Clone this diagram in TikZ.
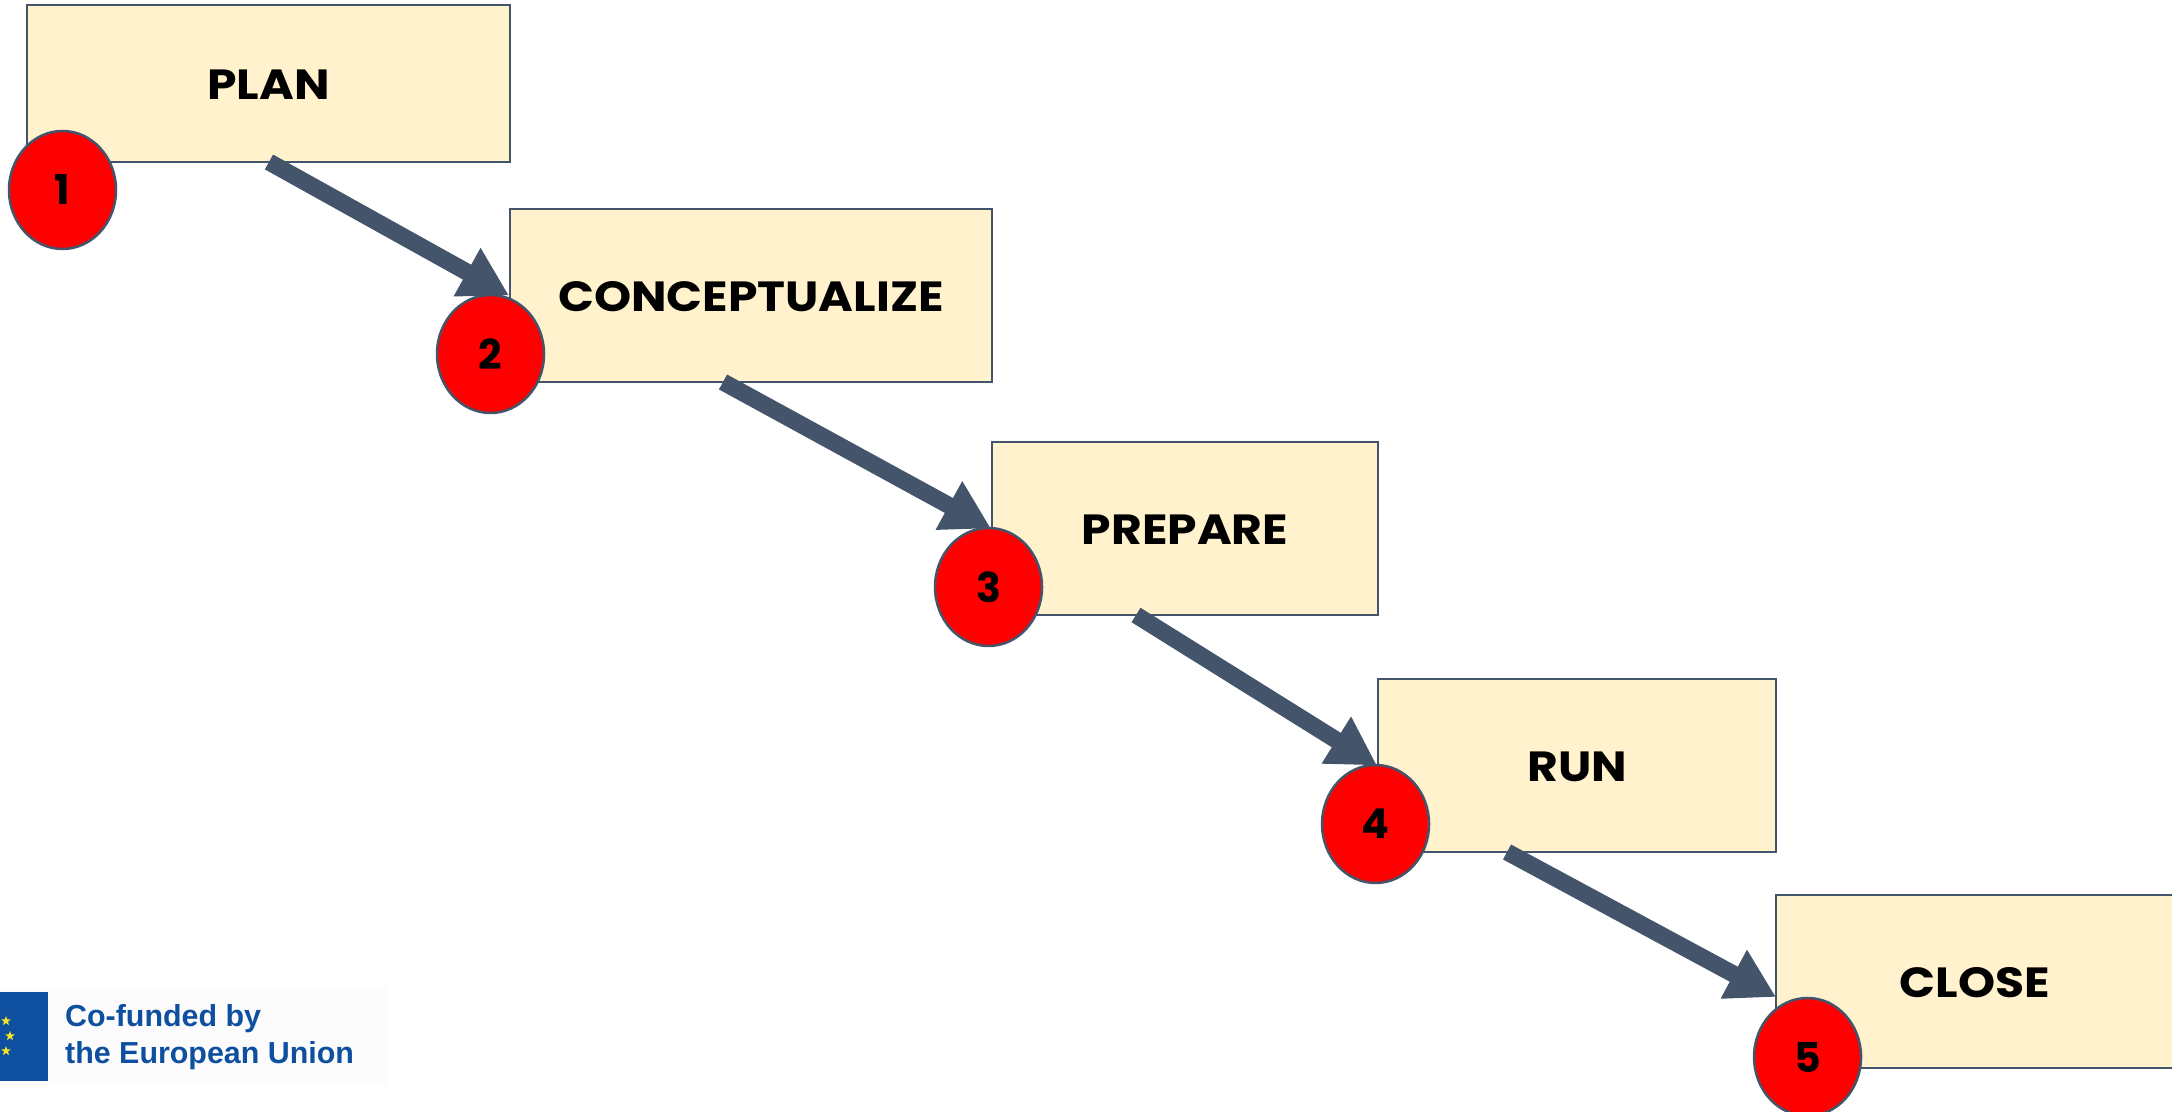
\documentclass[tikz,border=0pt]{standalone}
\usepackage{fontspec}
\setmainfont{Poppins}
\newfontfamily\stagefont[FakeStretch=1.12]{Poppins}
\newfontfamily\logofont{Liberation Sans}
\usetikzlibrary{arrows.meta,shapes.geometric}
\definecolor{slate}{HTML}{44546A}
\definecolor{cream}{HTML}{FFF2CC}
\definecolor{eublue}{HTML}{0F4FA0}
\definecolor{eustar}{HTML}{F5E625}
\tikzset{
	stagebox/.style={draw=slate, line width=0.2mm, fill=cream, inner sep=0, text height=9.3pt, font=\stagefont\fontsize{12}{14}\selectfont\bfseries},
	stagenum/.style={ellipse, draw=slate, line width=0.25mm, fill=red, inner sep=0, minimum width=1.07cm, minimum height=1.18cm, font=\fontsize{11.7}{14}\selectfont\bfseries},
	flowarrow/.style={draw=slate, line width=1.7mm, -{Triangle[length=4.8mm, width=5.2mm]}},
	eustarnode/.style={star, star points=5, star point ratio=2.4, fill=eustar, inner sep=0, minimum size=1mm},
	logotext/.style={anchor=west, inner sep=0, text=eublue, font=\logofont\fontsize{8.65}{10}\selectfont\bfseries}
}

\begin{document}
\begin{tikzpicture}
	\useasboundingbox (0, 0) rectangle (21.72, 11.12);
	
	\node[stagebox, minimum width=4.83cm, minimum height=1.57cm] (plan) at (2.685, 10.285) {PLAN};
	\node[stagebox, minimum width=4.82cm, minimum height=1.73cm] (conceptualize) at (7.51, 8.165) {CONCEPTUALIZE};
	\node[stagebox, minimum width=3.86cm, minimum height=1.73cm] (prepare) at (11.85, 5.835) {PREPARE};
	\node[stagebox, minimum width=3.98cm, minimum height=1.73cm] (run) at (15.77, 3.465) {RUN};
	\node[stagebox, minimum width=3.98cm, minimum height=1.73cm] (close) at (19.75, 1.305) {CLOSE};
	
	\coordinate (start1) at (2.69, 9.50);
	\coordinate (start2) at (7.23, 7.30);
	\coordinate (start3) at (11.36, 4.97);
	\coordinate (start4) at (15.07, 2.60);
	\coordinate (tip4) at (17.76, 1.15);
	
	\draw[flowarrow] (start1) -- (conceptualize.west);
	\draw[flowarrow] (start2) -- (prepare.west);
	\draw[flowarrow] (start3) -- (run.west);
	\draw[flowarrow] (start4) -- (tip4);
	
	\node[stagenum] (num1) at (0.625, 9.22) {1};
	\node[stagenum] (num2) at (4.905, 7.58) {2};
	\node[stagenum] (num3) at (9.885, 5.25) {3};
	\node[stagenum] (num4) at (13.755, 2.88) {4};
	\node[stagenum] (num5) at (18.075, 0.55) {5};
	
	\fill[black!1] (0, 0.26) rectangle (3.88, 1.26);
	\fill[eublue] (0, 0.31) rectangle (0.475, 1.2);
	\foreach \sx/\sy [count=\i] in {0.06/0.91, 0.1/0.76, 0.06/0.61}
		\node[eustarnode] (star\i) at (\sx, \sy) {};
	
	\node[logotext] (cofunded) at (0.645, 0.93) {Co-funded by};
	\node[logotext] (euunion) at (0.645, 0.565) {the European Union};
\end{tikzpicture}
\end{document}
